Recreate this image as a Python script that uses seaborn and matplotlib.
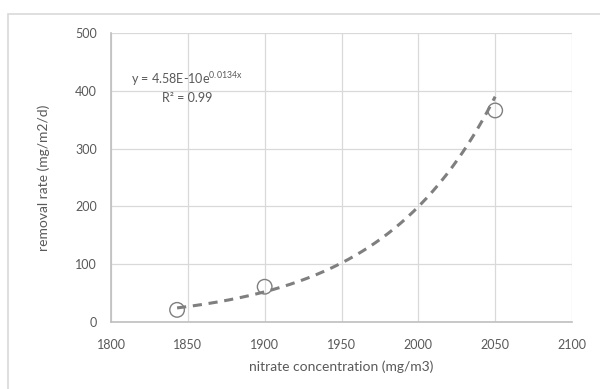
import numpy as np
import pandas as pd
import matplotlib
matplotlib.use("Agg")
import matplotlib.pyplot as plt
import seaborn as sns
from matplotlib.patches import Rectangle

# Data
nitrate = [1843, 1900, 2050]
removal = [21, 61, 366]
# Exponential trendline coefficients shown on the chart
TREND_A = 4.58e-10
TREND_B = 0.0134
x_ticks = [1800, 1850, 1900, 1950, 2000, 2050, 2100]
y_ticks = [0, 100, 200, 300, 400, 500]

sns.set_theme(style="white")
plt.rcParams['font.family'] = ['Lato', 'DejaVu Sans']
plt.rcParams['mathtext.fontset'] = 'custom'
plt.rcParams['mathtext.rm'] = 'Lato'

txt = '#595959'
grid = '#d9d9d9'

fig = plt.figure(figsize=(6, 3.89), dpi=100)
ax = fig.add_axes([111/600, 1-322/389, 461/600, 289/389])

df = pd.DataFrame({'x': nitrate, 'y': removal})
xs = np.linspace(min(nitrate), max(nitrate), 200)
trend = pd.DataFrame({'x': xs, 'y': TREND_A * np.exp(TREND_B * xs)})

sns.lineplot(data=trend, x='x', y='y', ax=ax, color='#7f7f7f', lw=2.2,
             linestyle=(0, (3, 2.2)), zorder=3)
sns.scatterplot(data=df, x='x', y='y', ax=ax, s=110, facecolor='none',
                edgecolor='#7f7f7f', linewidth=1.0, zorder=4)

ax.set_xlim(1800, 2100)
ax.set_ylim(0, 500)
ax.set_xticks(x_ticks)
ax.set_yticks(y_ticks)
ax.grid(True, color=grid, lw=0.9)
ax.set_axisbelow(True)
for s in ['top', 'right']:
    ax.spines[s].set_visible(False)
for s in ['left', 'bottom']:
    ax.spines[s].set_color('#bfbfbf')
    ax.spines[s].set_linewidth(1.2)
ax.tick_params(axis='both', length=0, labelsize=9, colors=txt)
ax.tick_params(axis='x', pad=12)
ax.tick_params(axis='y', pad=10)
ax.set_xlabel('nitrate concentration (mg/m3)', fontsize=10, color=txt, labelpad=7)
ax.set_ylabel('removal rate (mg/m2/d)', fontsize=10, color=txt, labelpad=18)

ax.text(1849.5, 421, r'y = 4.58E-10e$^{\mathregular{0.0134x}}$', ha='center', va='center',
        fontsize=9, color=txt)
ax.text(1849.5, 388, 'R² = 0.99', ha='center', va='center', fontsize=9, color=txt)

fig.patches.append(Rectangle((8/600, -0.1), 1.2, 1-14/389+0.1, transform=fig.transFigure,
                             fill=False, edgecolor=grid, lw=1.2))

fig.savefig('out.png', dpi=100)
